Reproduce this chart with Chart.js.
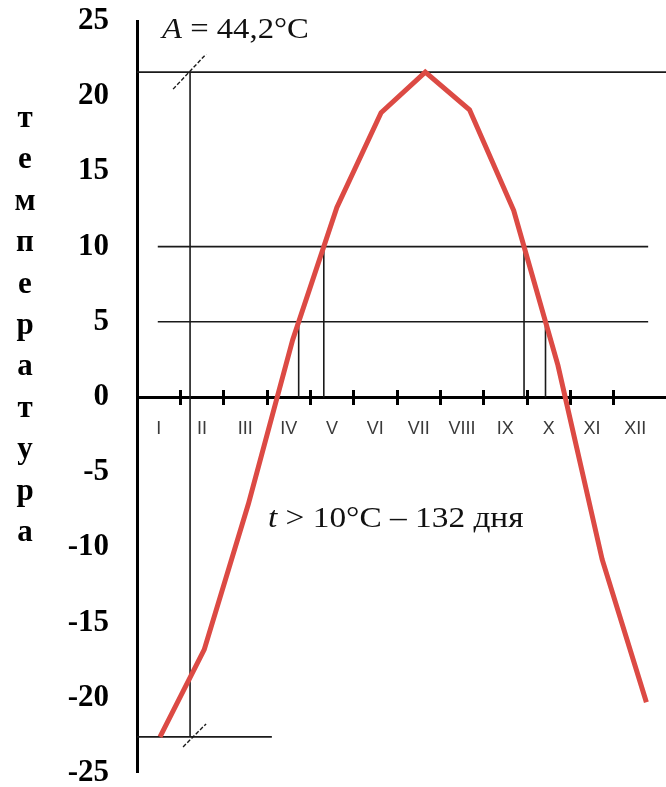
<!DOCTYPE html>
<html>
<head>
<meta charset="utf-8">
<script src="https://cdn.jsdelivr.net/npm/chart.js@4.4.0/dist/chart.umd.min.js"></script>
<style>
  html, body { margin: 0; padding: 0; background: #fff; }
  #wrap { position: relative; width: 666px; height: 787px; }
</style>
</head>
<body>
<div id="wrap"><canvas id="myChart"></canvas></div>
<script>
'use strict';

// DATA
let monthLabels = ['I', 'II', 'III', 'IV', 'V', 'VI', 'VII', 'VIII', 'IX', 'X', 'XI', 'XII'];
let monthTemps = [-22.6, -16.8, -7.1, 3.8, 12.6, 18.9, 21.6, 19.1, 12.4, 2.1, -10.8, -20.3];
let yTickValues = [25, 20, 15, 10, 5, 0, -5, -10, -15, -20, -25];
let levelLines = [10, 5];
let axisTitle = 'температура';
let warmDays = 132;

// LAYOUT / STYLE
const serif = '"Liberation Serif", "Times New Roman", serif';
const lineRed = '#dc4a44';
const ink = '#1a1a1a';
const ampX = 0.68;        // where the amplitude marker stands (month index units)
const lowLineEnd = 2.53;  // right end of the minimum line
const levelFrom = -0.05;
const levelTo = 11.04;

// where the curve crosses a given temperature (fractional month index)
function crossings(level) {
  let out = [];
  for (let i = 0; i < monthTemps.length - 1; i++) {
    let a = monthTemps[i];
    let b = monthTemps[i + 1];
    if ((a - level) * (b - level) < 0) {
      out.push(i + (level - a) / (b - a));
    }
  }
  return out;
}

function line(ctx, x1, y1, x2, y2) {
  ctx.beginPath();
  ctx.moveTo(x1, y1);
  ctx.lineTo(x2, y2);
  ctx.stroke();
}

// text squeezed wider, the scan of the original is stretched sideways
function wideText(ctx, parts, x, y, size, stretch) {
  ctx.save();
  ctx.translate(x, y);
  ctx.scale(stretch, 1);
  let cx = 0;
  parts.forEach(p => {
    ctx.font = (p.italic ? 'italic ' : '') + size + 'px ' + serif;
    ctx.fillText(p.text, cx, 0);
    cx += ctx.measureText(p.text).width;
  });
  ctx.restore();
}

// annotation lines, drawn under the curve
const guideLines = {
  id: 'guideLines',
  beforeDatasetsDraw(chart) {
    const {ctx, chartArea, scales} = chart;
    const xs = scales.xd;
    const ys = scales.y;
    const maxT = Math.max(...monthTemps);
    const minT = Math.min(...monthTemps);
    const y0 = Math.round(ys.getPixelForValue(0) - 1.5) + 1.5;
    const yMax = ys.getPixelForValue(maxT);
    const yMin = ys.getPixelForValue(minT);
    const ax = xs.getPixelForValue(ampX);

    ctx.save();
    // zero axis runs on to the edge
    ctx.strokeStyle = '#000';
    ctx.lineWidth = 3;
    line(ctx, chartArea.right - 1, y0, chart.width, y0);

    ctx.strokeStyle = ink;
    ctx.lineWidth = 1.6;
    line(ctx, chartArea.left, yMax, chart.width, yMax);
    line(ctx, chartArea.left, yMin, xs.getPixelForValue(lowLineEnd), yMin);
    line(ctx, ax, yMax, ax, yMin);

    levelLines.forEach(level => {
      let yl = ys.getPixelForValue(level);
      line(ctx, xs.getPixelForValue(levelFrom), yl, xs.getPixelForValue(levelTo), yl);
      crossings(level).forEach(c => {
        let xc = xs.getPixelForValue(c);
        line(ctx, xc, yl, xc, y0);
      });
    });

    // dashed slash marks on the amplitude line
    ctx.setLineDash([4, 2]);
    ctx.lineWidth = 1.4;
    line(ctx, ax - 17, yMax + 17, ax + 16, yMax - 18);
    line(ctx, ax - 7, yMin + 10, ax + 16, yMin - 13);
    ctx.restore();
  },
  afterDraw(chart) {
    const {ctx} = chart;
    const amp = (Math.max(...monthTemps) - Math.min(...monthTemps)).toFixed(1).replace('.', ',');
    ctx.save();
    ctx.fillStyle = '#000';
    ctx.textAlign = 'center';
    ctx.textBaseline = 'alphabetic';
    ctx.font = 'bold 31px ' + serif;
    Array.from(axisTitle).forEach((ch, i) => {
      ctx.fillText(ch, 25, 127 + 41.4 * i);
    });

    ctx.textAlign = 'left';
    ctx.fillStyle = '#111';
    wideText(ctx, [{text: 'A', italic: true}, {text: ' = ' + amp + '°C'}], 162, 38, 30, 1.09);
    wideText(ctx, [{text: 't', italic: true}, {text: ' > 10°C – ' + warmDays + ' дня'}], 268, 527, 29, 1.15);
    ctx.restore();
  }
};

const data = {
  datasets: [{
    label: 'температура',
    data: monthTemps.map((v, i) => ({x: i, y: v})),
    xAxisID: 'xd',
    yAxisID: 'y',
    borderColor: lineRed,
    borderWidth: 5,
    pointRadius: 0,
    tension: 0,
    fill: false
  }]
};

const config = {
  type: 'line',
  data: data,
  options: {
    responsive: true,
    maintainAspectRatio: false,
    animation: false,
    layout: {padding: {top: 21, bottom: 14, left: 0, right: 9}},
    plugins: {legend: {display: false}, tooltip: {enabled: false}},
    scales: {
      xd: {
        type: 'linear',
        display: false,
        min: -0.52,
        max: 11.24
      },
      x: {
        type: 'category',
        labels: monthLabels,
        offset: true,
        position: {y: 0.45},
        border: {display: false},
        grid: {
          offset: true,
          drawOnChartArea: false,
          tickLength: 15,
          tickWidth: 3,
          tickColor: ctx => (ctx.type !== 'tick' || ctx.index === 0) ? 'rgba(0,0,0,0)' : '#000'
        },
        ticks: {
          padding: 13,
          maxRotation: 0,
          autoSkip: false,
          color: '#3a3a3a',
          font: {family: '"Liberation Sans", Arial, sans-serif', size: 18}
        }
      },
      y: {
        type: 'linear',
        position: 'left',
        min: -25,
        max: 25,
        afterBuildTicks: scale => {
          scale.ticks = yTickValues.map(v => ({value: v}));
        },
        afterFit: scale => {
          scale.width = 137;
          scale.paddingTop = 0;
          scale.paddingBottom = 0;
        },
        border: {display: true, width: 3, color: '#000'},
        grid: {
          drawTicks: false,
          color: ctx => (ctx.tick && ctx.tick.value === 0) ? '#000' : 'rgba(0,0,0,0)',
          lineWidth: ctx => (ctx.tick && ctx.tick.value === 0) ? 3 : 0
        },
        ticks: {
          padding: 28,
          color: '#000',
          font: {family: serif, weight: 'bold', size: 31}
        }
      }
    }
  },
  plugins: [guideLines]
};

let canvasChart = document.getElementById('myChart');
const myChart = new Chart(canvasChart, config);
</script>
</body>
</html>
